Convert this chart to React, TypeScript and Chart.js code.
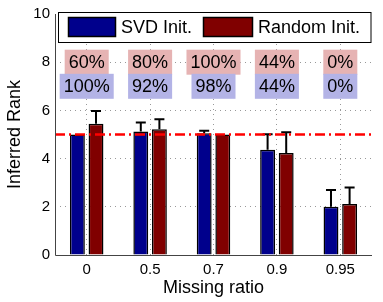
import React, { useEffect, useRef } from "react";
import { Chart, registerables } from "chart.js";

Chart.register(...registerables);

const categories = ["0", "0.5", "0.7", "0.9", "0.95"];
const svdMeans = [5.0, 5.12, 5.05, 4.37, 2.0];
const svdErr = [0, 0.38, 0.11, 0.64, 0.7];
const randMeans = [5.45, 5.22, 5.0, 4.23, 2.12];
const randErr = [0.52, 0.41, 0, 0.86, 0.68];
const randPct = ["60%", "80%", "100%", "44%", "0%"];
const svdPct = ["100%", "92%", "98%", "44%", "0%"];
const randPctY = 8;
const svdPctY = 7;
const trueRank = 5;
const seriesNames = ["SVD Init.", "Random Init."];
const xTitle = "Missing ratio";
const yTitle = "Inferred Rank";

const FONT = '"Liberation Sans", Arial, Helvetica, sans-serif';
const BLUE = "#00008C";
const RED = "#800000";
const PINK_BOX = "#E6B3B3";
const BLUE_BOX = "#B3B3E6";

const overlay = {
  id: "overlay",
  afterDatasetsDraw(chart: any) {
    const ctx = chart.ctx;
    const xs = chart.scales.x;
    const ys = chart.scales.y;
    const area = chart.chartArea;
    const errs = [svdErr, randErr];
    const means = [svdMeans, randMeans];
    ctx.save();
    // error bars
    ctx.strokeStyle = "#000";
    ctx.lineWidth = 2;
    for (let d = 0; d < 2; d++) {
      const meta = chart.getDatasetMeta(d);
      meta.data.forEach((el: any, i: number) => {
        const e = errs[d][i];
        if (!e) return;
        const x = el.x;
        const y0 = ys.getPixelForValue(means[d][i]);
        const y1 = ys.getPixelForValue(means[d][i] + e);
        ctx.beginPath();
        ctx.moveTo(x, y0);
        ctx.lineTo(x, y1);
        ctx.moveTo(x - 5, y1);
        ctx.lineTo(x + 5, y1);
        ctx.stroke();
      });
    }
    // reference line
    const yr = ys.getPixelForValue(trueRank);
    ctx.strokeStyle = "#FF0000";
    ctx.lineWidth = 2.5;
    ctx.setLineDash([10, 4, 2, 4]);
    ctx.beginPath();
    ctx.moveTo(area.left, yr);
    ctx.lineTo(area.right, yr);
    ctx.stroke();
    ctx.setLineDash([]);

    // percentage labels
    ctx.font = `18px ${FONT}`;
    ctx.textAlign = "center";
    ctx.textBaseline = "middle";
    const drawLabels = (labels: string[], val: number, bg: string) => {
      labels.forEach((t, i) => {
        const x = xs.getPixelForValue(i);
        const y = ys.getPixelForValue(val);
        const w = ctx.measureText(t).width + 8;
        const h = 25;
        ctx.fillStyle = bg;
        ctx.fillRect(x - w / 2, y - h / 2, w, h);
        ctx.fillStyle = "#000";
        ctx.fillText(t, x, y + 1);
      });
    };
    drawLabels(randPct, randPctY, PINK_BOX);
    drawLabels(svdPct, svdPctY, BLUE_BOX);

    // axis lines
    ctx.strokeStyle = "#444";
    ctx.lineWidth = 1;
    ctx.beginPath();
    ctx.moveTo(area.left + 0.5, area.top);
    ctx.lineTo(area.left + 0.5, area.bottom + 0.5);
    ctx.lineTo(area.right, area.bottom + 0.5);
    ctx.stroke();

    // legend
    const lx = area.left + 3.5;
    const ly = area.top - 1.5;
    const lw = area.right - 1 - lx;
    const lh = 30;
    ctx.fillStyle = "#fff";
    ctx.fillRect(lx, ly, lw, lh);
    ctx.strokeStyle = "#000";
    ctx.lineWidth = 1;
    ctx.strokeRect(lx, ly, lw, lh);
    ctx.textAlign = "left";
    ctx.lineWidth = 1.5;
    const sw = [
      { x: lx + 10, w: 47, c: BLUE, t: seriesNames[0], tx: lx + 62.5 },
      { x: lx + 145, w: 49, c: RED, t: seriesNames[1], tx: lx + 199.5 },
    ];
    sw.forEach((s) => {
      ctx.fillStyle = s.c;
      ctx.fillRect(s.x, ly + 5, s.w, 19);
      ctx.strokeRect(s.x, ly + 5, s.w, 19);
      ctx.fillStyle = "#000";
      ctx.fillText(s.t, s.tx, ly + lh / 2 + 1);
    });

    // axis titles
    ctx.fillStyle = "#000";
    ctx.font = `18px ${FONT}`;
    ctx.textAlign = "center";
    ctx.textBaseline = "middle";
    ctx.fillText(xTitle, (area.left + area.right) / 2, 288);
    ctx.save();
    ctx.translate(15, (area.top + area.bottom) / 2);
    ctx.rotate(-Math.PI / 2);
    ctx.fillText(yTitle, 0, 0);
    ctx.restore();
    ctx.restore();
  },
};

export default function App() {
  const ref = useRef<HTMLCanvasElement | null>(null);
  useEffect(() => {
    if (!ref.current) return;
    const chart = new Chart(ref.current, {
      type: "bar",
      data: {
        labels: categories,
        datasets: [
          {
            label: seriesNames[0],
            data: svdMeans,
            backgroundColor: BLUE,
            borderColor: "#000",
            borderWidth: 1.5,
            barPercentage: 0.8,
            categoryPercentage: 0.587,
          },
          {
            label: seriesNames[1],
            data: randMeans,
            backgroundColor: RED,
            borderColor: "#000",
            borderWidth: 1.5,
            barPercentage: 0.8,
            categoryPercentage: 0.587,
          },
        ],
      },
      options: {
        responsive: false,
        maintainAspectRatio: false,
        animation: false,
        devicePixelRatio: 1,
        layout: { padding: { top: 11, right: 11, left: 0, bottom: 0 } },
        plugins: { legend: { display: false }, tooltip: { enabled: false } },
        scales: {
          x: {
            offset: true,
            grid: {
              offset: false,
              drawTicks: false,
              color: "#999",
              lineWidth: 1,
            },
            border: { display: false, dash: [1, 4] },
            ticks: {
              color: "#000",
              font: { family: FONT, size: 15 },
              padding: 6,
              maxRotation: 0,
            },
            afterFit: (s: any) => {
              s.height = 47;
            },
          },
          y: {
            min: 0,
            max: 10,
            grid: {
              drawTicks: false,
              color: (c: any) =>
                c.tick && (c.tick.value === 0 || c.tick.value === 10)
                  ? "rgba(0,0,0,0)"
                  : "#999",
              lineWidth: 1,
            },
            border: { display: false, dash: [1, 4] },
            ticks: {
              stepSize: 2,
              color: "#000",
              font: { family: FONT, size: 15 },
              padding: 5,
            },
            afterFit: (s: any) => {
              s.width = 55;
            },
          },
        },
      },
      plugins: [overlay],
    });
    return () => chart.destroy();
  }, []);
  return (
    <div style={{ position: "absolute", left: 0, top: 0, width: 383, height: 302, background: "#fff" }}>
      <canvas ref={ref} width={383} height={302} />
    </div>
  );
}
